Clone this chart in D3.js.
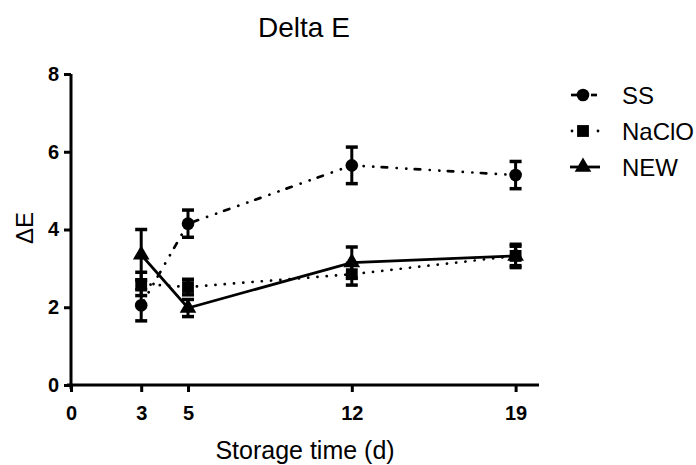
<!DOCTYPE html>
<html>
<head>
<meta charset="utf-8">
<script src="https://cdn.jsdelivr.net/npm/d3@7"></script>
<style>
  body { margin: 0; background: #fff; }
  text { font-family: Arial, "Liberation Sans", sans-serif; }
</style>
</head>
<body>
<svg width="696" height="465"></svg>
<script>
// data
const days = [3, 5, 12, 19];
const ssMean = [2.05, 4.15, 5.65, 5.4];
const ssErr = [0.4, 0.35, 0.47, 0.35];
const naclMean = [2.6, 2.52, 2.85, 3.32];
const naclErr = [0.3, 0.2, 0.28, 0.3];
const newMean = [3.35, 1.98, 3.15, 3.32];
const newErr = [0.65, 0.22, 0.4, 0.25];
const xTicks = [0, 3, 5, 12, 19];
const yTicks = [0, 2, 4, 6, 8];

const svg = d3.select("svg");
const x = d3.scaleLinear().domain([0, 20]).range([71, 539]);
const y = d3.scaleLinear().domain([0, 8]).range([385, 74]);

// title
svg.append("text").attr("x", 304).attr("y", 37).attr("text-anchor", "middle")
    .style("font-size", "28px").text("Delta E");

// axes
let xAxis = svg.append("g").attr("transform", `translate(0,${y(0)})`)
    .call(d3.axisBottom(x).tickValues(xTicks).tickSize(7).tickSizeOuter(0));
let yAxis = svg.append("g").attr("transform", `translate(${x(0)},0)`)
    .call(d3.axisLeft(y).tickValues(yTicks).tickSize(7).tickSizeOuter(0));
[xAxis, yAxis].forEach(a => {
    a.select(".domain").attr("stroke", "#000").attr("stroke-width", 3);
    a.selectAll(".tick line").attr("stroke", "#000").attr("stroke-width", 3);
    a.selectAll(".tick text").style("font-size", "20px").style("font-weight", "bold")
        .style("font-family", "Arial, 'Liberation Sans', sans-serif").attr("fill", "#000");
});
xAxis.selectAll(".tick text").attr("y", 21);
yAxis.selectAll(".tick text").attr("x", -12);
// axis lines extend a bit past the origin as in the picture
xAxis.select(".domain").attr("d", `M${x(0) - 4},0H${x(20)}`);
yAxis.select(".domain").attr("d", `M0,${y(8)}V${y(0) + 4}`);

svg.append("text").attr("x", 305).attr("y", 459).attr("text-anchor", "middle")
    .style("font-size", "25px").text("Storage time (d)");
svg.append("text").attr("transform", `translate(33,228) rotate(-90)`)
    .attr("text-anchor", "middle").style("font-size", "24px").text("ΔE");

const series = [
    { name: "SS", mean: ssMean, err: ssErr, dash: "5.5,9.5,0.1,9.5,0.1,8.4", sym: d3.symbolCircle, size: 125 },
    { name: "NaClO", mean: naclMean, err: naclErr, dash: "0.1,9.2", sym: d3.symbolSquare, size: 140 },
    { name: "NEW", mean: newMean, err: newErr, dash: null, sym: d3.symbolTriangle, size: 120 }
];

const line = d3.line().x(d => x(d.x)).y(d => y(d.y));

series.forEach(s => {
    const pts = days.map((d, i) => ({ x: d, y: s.mean[i], e: s.err[i] }));
    const g = svg.append("g");
    g.append("path").attr("d", line(pts)).attr("fill", "none").attr("stroke", "#000")
        .attr("stroke-width", s.dash ? 2.7 : 2.8).attr("stroke-dasharray", s.dash)
        .attr("stroke-linecap", s.dash ? "round" : "butt");
    // error bars
    pts.forEach(p => {
        const cx = x(p.x);
        g.append("line").attr("x1", cx).attr("x2", cx).attr("y1", y(p.y - p.e)).attr("y2", y(p.y + p.e))
            .attr("stroke", "#000").attr("stroke-width", 3);
        [p.y - p.e, p.y + p.e].forEach(v => {
            g.append("line").attr("x1", cx - 6).attr("x2", cx + 6).attr("y1", y(v)).attr("y2", y(v))
                .attr("stroke", "#000").attr("stroke-width", 3.5);
        });
    });
    g.selectAll("path.sym").data(pts).enter().append("path").attr("class", "sym")
        .attr("d", d3.symbol().type(s.sym).size(s.size))
        .attr("transform", d => `translate(${x(d.x)},${y(d.y)})`)
        .attr("fill", "#000");
});

// legend
series.forEach((s, i) => {
    const ly = 95 + i * 36;
    const lg = svg.append("g");
    if (s.name === "SS") {
        lg.append("line").attr("x1", 571).attr("x2", 578).attr("y1", ly).attr("y2", ly)
            .attr("stroke", "#000").attr("stroke-width", 2.7);
        lg.append("line").attr("x1", 591).attr("x2", 597).attr("y1", ly).attr("y2", ly)
            .attr("stroke", "#000").attr("stroke-width", 2.7);
    } else if (s.name === "NaClO") {
        [572, 598].forEach(dx => lg.append("circle").attr("cx", dx).attr("cy", ly).attr("r", 1.4).attr("fill", "#000"));
    } else {
        lg.append("line").attr("x1", 570).attr("x2", 600).attr("y1", ly).attr("y2", ly)
            .attr("stroke", "#000").attr("stroke-width", 2.8);
    }
    lg.append("path").attr("d", d3.symbol().type(s.sym).size(s.size))
        .attr("transform", `translate(583,${ly})`).attr("fill", "#000");
    lg.append("text").attr("x", 622).attr("y", ly + 9).style("font-size", "24px").text(s.name);
});
</script>
</body>
</html>
